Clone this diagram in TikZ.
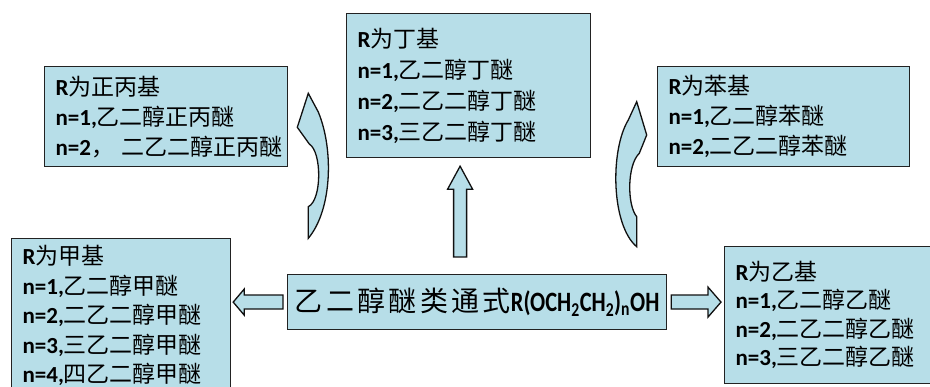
\documentclass[tikz,border=0pt]{standalone}
\usepackage{fontspec}
\setmainfont{Noto Sans CJK SC}
\newfontfamily\latin{Carlito}
\newfontfamily\latinnarrow[FakeStretch=0.8]{Carlito}
\newfontfamily\bigcjk[LetterSpace=12]{Noto Sans CJK SC}
\usetikzlibrary{calc}
\definecolor{boxfill}{HTML}{B7DEE8}
\definecolor{boxline}{HTML}{222222}
\definecolor{arrowline}{HTML}{111111}
\newcommand{\la}[1]{{\latin\bfseries #1}}

\begin{document}
\begin{tikzpicture}[x=1pt,y=-1pt,
    zhbox/.style={draw=boxline, line width=1.2pt, fill=boxfill, anchor=north west,
      align=left, inner xsep=11pt, inner ysep=0pt, font=\fontsize{23}{30}\selectfont},
    blockarrow/.style={fill=boxfill, draw=arrowline, line width=1.3pt}]
  \useasboundingbox (0,0) rectangle (930,387);

  \node[zhbox, text width=221, minimum height=100] (propyl) at (44,66)
    {\la{R}为正丙基\\ \la{n=1,}乙二醇正丙醚\\ \la{n=2}，~二乙二醇正丙醚};
  \node[zhbox, text width=222, minimum height=144, font=\fontsize{23}{31}\selectfont] (butyl) at (346,13)
    {\la{R}为丁基\\ \la{n=1,}乙二醇丁醚\\ \la{n=2,}二乙二醇丁醚\\ \la{n=3,}三乙二醇丁醚};
  \node[zhbox, text width=230, minimum height=100] (phenyl) at (657,66)
    {\la{R}为苯基\\ \la{n=1,}乙二醇苯醚\\ \la{n=2,}二乙二醇苯醚};
  \node[zhbox, text width=197, minimum height=154, font=\fontsize{23}{29.5}\selectfont] (methyl) at (11,238)
    {\la{R}为甲基\\ \la{n=1,}乙二醇甲醚\\ \la{n=2,}二乙二醇甲醚\\ \la{n=3,}三乙二醇甲醚\\ \la{n=4,}四乙二醇甲醚};
  \node[zhbox, text width=193, minimum height=137, font=\fontsize{23}{28.5}\selectfont] (ethyl) at (724,246)
    {\la{R}为乙基\\ \la{n=1,}乙二醇乙醚\\ \la{n=2,}二乙二醇乙醚\\ \la{n=3,}三乙二醇乙醚};
  \node[zhbox, align=center, minimum width=379, minimum height=55, inner xsep=2pt,
    font=\fontsize{28}{30}\selectfont] (ctr) at (287,274)
    {{\bigcjk 乙二醇醚类通式}{\latinnarrow\bfseries R(OCH\textsubscript{2}CH\textsubscript{2})\textsubscript{n}OH}};

  % straight arrows
  \coordinate (lt) at ($(methyl.east |- ctr.west)+(2,0)$);
  \draw[blockarrow] ($(ctr.west)+(-4,-7)$) -- ($(lt)+(11,-7)$) -- ($(lt)+(11,-13)$) -- (lt)
    -- ($(lt)+(11,13)$) -- ($(lt)+(11,7)$) -- ($(ctr.west)+(-4,7)$) -- cycle;
  \coordinate (rt) at ($(ethyl.west |- ctr.east)+(-3,0)$);
  \draw[blockarrow] ($(ctr.east)+(4,-7)$) -- ($(rt)+(-13,-7)$) -- ($(rt)+(-13,-15)$) -- (rt)
    -- ($(rt)+(-13,15)$) -- ($(rt)+(-13,7)$) -- ($(ctr.east)+(4,7)$) -- cycle;
  \coordinate (ub) at ($(ctr.north)+(-17,-17)$);
  \coordinate (ut) at ($(butyl.south -| ub)+(0,8)$);
  \draw[blockarrow] ($(ub)+(-6.5,0)$) -- ($(ut)+(-6.5,23)$) -- ($(ut)+(-12.5,23)$) -- (ut)
    -- ($(ut)+(12.5,23)$) -- ($(ut)+(6.5,23)$) -- ($(ub)+(6.5,0)$) -- cycle;

  % curved arrows
  \draw[blockarrow] (308.3,93.3) -- (297.3,127.3) -- (309.3,144)
    .. controls (322,152) and (322,200) .. (308.3,206.7) -- (308.3,238.3)
    .. controls (332,210) and (334,150) .. (318.3,112) -- cycle;
  \draw[blockarrow] (636.7,101.7) -- (646.7,135) -- (639.3,153.3)
    .. controls (627,165) and (627,205) .. (636.7,216.7) -- (636.7,246.7)
    .. controls (611,225) and (610,150) .. (628.3,120) -- cycle;
\end{tikzpicture}
\end{document}
